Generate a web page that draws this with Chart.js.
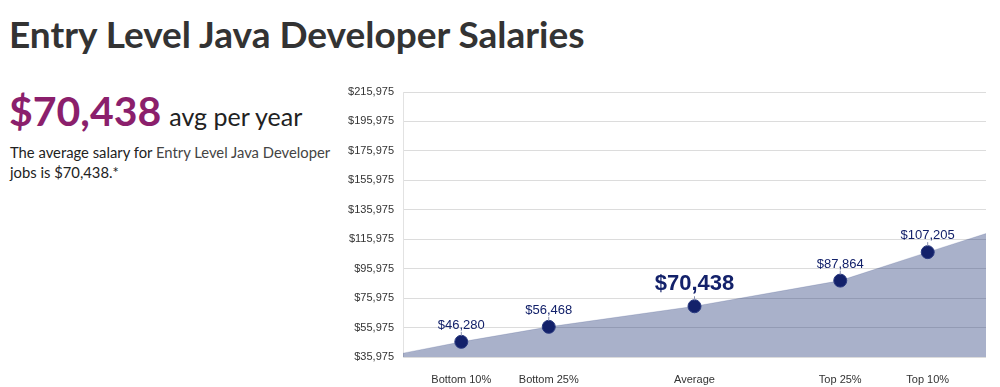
<!DOCTYPE html>
<html>
<head>
<meta charset="utf-8">
<script src="https://cdn.jsdelivr.net/npm/chart.js@4"></script>
<style>
    body { margin: 0; background: #fff; width: 1000px; height: 387px; overflow: hidden; position: relative; }
    #salary-canvas { position: absolute; left: 0; top: 0; }
    .title { position: absolute; left: 9px; top: 11px; font-family: 'Lato', sans-serif; font-weight: 700; font-size: 37px; color: #333; white-space: nowrap; }
    .avg { position: absolute; left: 9px; top: 86px; white-space: nowrap; }
    .avg .num { font-family: 'Lato', sans-serif; font-weight: 700; font-size: 41px; color: #8b1f6c; }
    .avg .per { font-family: 'Lato', sans-serif; font-size: 25px; color: #222; margin-left: 8px; }
    .desc { position: absolute; left: 10px; top: 142px; width: 345px; font-family: 'Lato', sans-serif; font-size: 14.8px; line-height: 20px; color: #222; }
    .desc .job { color: #444; }
</style>
</head>
<body>
<div class="title">Entry Level Java Developer Salaries</div>
<div class="avg"><span class="num">$70,438</span><span class="per">avg per year</span></div>
<div class="desc">The average salary for <span class="job">Entry Level Java Developer</span><br>jobs is $70,438.*</div>
<canvas id="salary-canvas" width="1000" height="387"></canvas>
<script>
// percentile positions and labels on the x axis
const tickPositions = [10, 25, 50, 75, 90];
const tickLabels = ['Bottom 10%', 'Bottom 25%', 'Average', 'Top 25%', 'Top 10%'];
const salaries = [46280, 56468, 70438, 87864, 107205];

// outline of the shaded distribution (percentile, salary)
const areaX = [0, 10, 25, 50, 75, 90, 100];
const areaY = [38600, 46280, 56468, 70438, 87864, 107205, 119850];

const navy = '#13216a';

const fmt = (v) => '$' + Math.round(v).toLocaleString('en-US');

const pointLabels = {
    id: 'pointLabels',
    afterDatasetsDraw(chart) {
        const ctx = chart.ctx;
        const meta = chart.getDatasetMeta(1);
        ctx.save();
        ctx.textAlign = 'center';
        ctx.textBaseline = 'bottom';
        ctx.fillStyle = navy;
        meta.data.forEach((pt, i) => {
            const big = tickLabels[i] === 'Average';
            ctx.strokeStyle = '#8890b0';
            ctx.lineWidth = 1;
            ctx.beginPath();
            ctx.moveTo(pt.x, pt.y - 6);
            ctx.lineTo(pt.x, pt.y - 10);
            ctx.stroke();
            ctx.font = big ? 'bold 22px "Liberation Sans", Arial' : '13px "Liberation Sans", Arial';
            ctx.fillText(fmt(salaries[i]), pt.x, pt.y - (big ? 11 : 10));
        });
        ctx.restore();
    }
};

new Chart(document.getElementById('salary-canvas'), {
    plugins: [pointLabels],
    data: {
        datasets: [
            {
                type: 'line',
                data: areaX.map((x, i) => ({ x: x, y: areaY[i] })),
                fill: 'start',
                backgroundColor: 'rgba(30, 50, 115, 0.38)',
                borderColor: 'rgba(30, 50, 115, 0.15)',
                borderWidth: 1,
                pointRadius: 0,
                tension: 0,
                order: 2,
            },
            {
                type: 'scatter',
                data: tickPositions.map((x, i) => ({ x: x, y: salaries[i] })),
                backgroundColor: navy,
                borderColor: '#2a3a80',
                borderWidth: 1,
                pointRadius: 6.5,
                order: 1,
            }
        ]
    },
    options: {
        responsive: false,
        animation: false,
        layout: { padding: { left: 330, top: 92, right: 14, bottom: 0 } },
        plugins: { legend: { display: false }, tooltip: { enabled: false } },
        scales: {
            x: {
                type: 'linear',
                min: 0,
                max: 100,
                afterBuildTicks: (scale) => { scale.ticks = tickPositions.map(v => ({ value: v })); },
                afterFit: (scale) => { scale.height = 30; },
                ticks: {
                    autoSkip: false,
                    maxRotation: 0,
                    padding: 8,
                    color: '#333',
                    font: { family: '"Liberation Sans", Arial', size: 11 },
                    callback: (value) => tickLabels[tickPositions.indexOf(value)],
                },
                grid: { display: false },
                border: { display: false },
            },
            y: {
                min: 35975,
                max: 215975,
                afterFit: (scale) => { scale.width = 73; },
                ticks: {
                    stepSize: 20000,
                    padding: 9,
                    color: '#333',
                    font: { family: '"Liberation Sans", Arial', size: 11 },
                    callback: (value) => fmt(value),
                },
                grid: { color: '#dcdcdc', drawTicks: false },
                border: { display: true, color: '#e2e2e2' },
            }
        }
    }
});
</script>
</body>
</html>
